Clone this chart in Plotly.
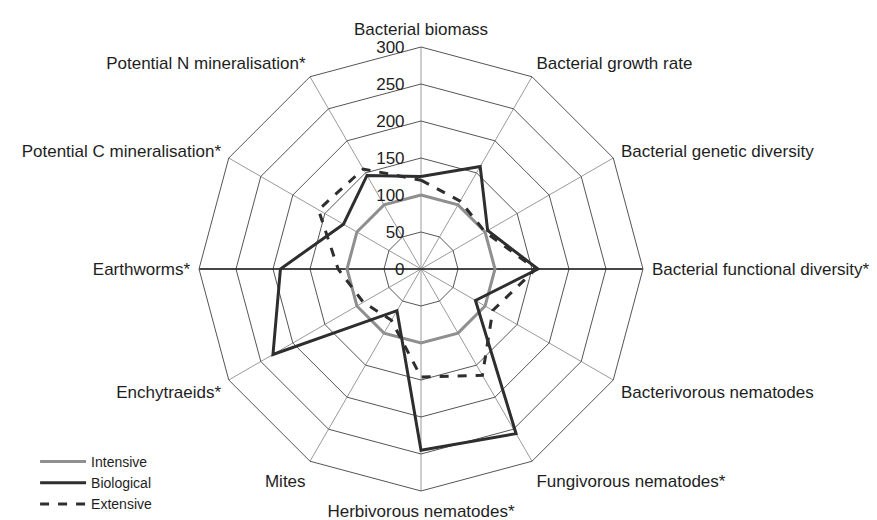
import plotly.graph_objects as go

# Soil indicators, clockwise from the top of the web
categories = [
    "Bacterial biomass",
    "Bacterial growth rate",
    "Bacterial genetic diversity",
    "Bacterial functional diversity*",
    "Bacterivorous nematodes",
    "Fungivorous nematodes*",
    "Herbivorous nematodes*",
    "Mites",
    "Enchytraeids*",
    "Earthworms*",
    "Potential C mineralisation*",
    "Potential N mineralisation*",
]

# Values relative to intensive farming (= 100)
intensive = [100, 100, 100, 100, 100, 100, 100, 100, 100, 100, 100, 100]
biological = [125, 160, 104, 158, 85, 257, 245, 65, 231, 190, 121, 146]
extensive = [120, 106, 100, 155, 112, 166, 146, 80, 90, 112, 160, 156]

radial_ticks = [0, 50, 100, 150, 200, 250, 300]

FONT = "Liberation Sans, Arial, sans-serif"
TEXT = "#1e1e1e"


def closed(values):
    return list(values) + [values[0]]


theta = closed(categories)

fig = go.Figure()

# Darker horizontal axis line through the centre (drawn first, under the data)
fig.add_trace(go.Scatterpolar(
    r=[radial_ticks[-1], 0, radial_ticks[-1]],
    theta=[categories[9], categories[0], categories[3]],
    mode="lines",
    line=dict(color="#1a1a1a", width=1.3),
    showlegend=False,
    hoverinfo="skip",
))

fig.add_trace(go.Scatterpolar(
    r=closed(intensive), theta=theta, mode="lines", name="Intensive",
    line=dict(color="#8f8f8f", width=3),
))
fig.add_trace(go.Scatterpolar(
    r=closed(biological), theta=theta, mode="lines", name="Biological",
    line=dict(color="#2e2e2e", width=3),
))
fig.add_trace(go.Scatterpolar(
    r=closed(extensive), theta=theta, mode="lines", name="Extensive",
    line=dict(color="#2e2e2e", width=3, dash="dash"),
))

fig.update_layout(
    width=877,
    height=520,
    margin=dict(l=0, r=0, t=0, b=0),
    paper_bgcolor="white",
    plot_bgcolor="white",
    font=dict(family=FONT, size=17, color=TEXT),
    polar=dict(
        domain=dict(x=[0.2269, 0.7332], y=[0.0558, 0.9096]),
        bgcolor="white",
        gridshape="linear",
        radialaxis=dict(
            range=[0, 300],
            tickvals=radial_ticks,
            angle=90,
            tickangle=90,
            side="counterclockwise",
            showline=False,
            ticks="outside",
            ticklen=10,
            tickcolor="rgba(0,0,0,0)",
            gridcolor="#555555",
            gridwidth=1,
            tickfont=dict(family=FONT, size=17, color=TEXT),
        ),
        angularaxis=dict(
            direction="clockwise",
            rotation=90,
            categoryorder="array",
            categoryarray=categories,
            showline=True,
            linecolor="#555555",
            linewidth=1,
            gridcolor="#9a9a9a",
            gridwidth=1,
            ticks="outside",
            ticklen=5,
            tickcolor="rgba(0,0,0,0)",
            tickfont=dict(family=FONT, size=17, color=TEXT),
        ),
    ),
    legend=dict(
        x=0.04, y=0.0, xanchor="left", yanchor="bottom",
        bgcolor="rgba(0,0,0,0)",
        font=dict(family=FONT, size=14, color=TEXT),
        itemwidth=46,
        tracegroupgap=0,
    ),
    showlegend=True,
)

fig.write_html("out.html")
